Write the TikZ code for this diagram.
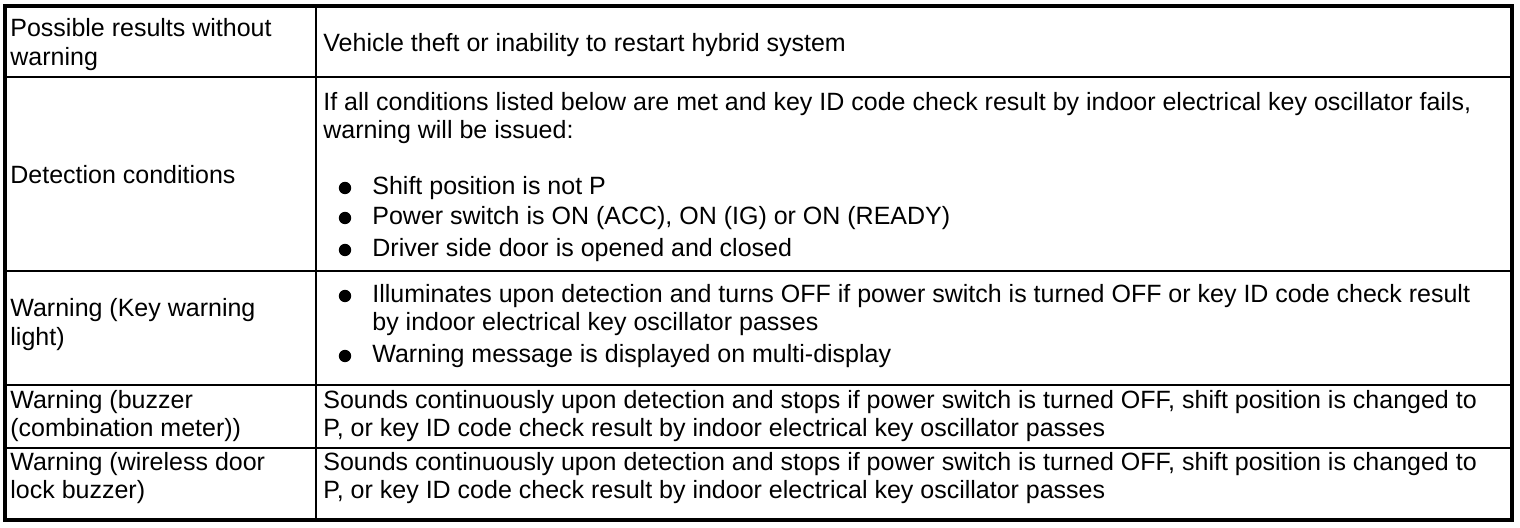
\documentclass[tikz,border=0pt]{standalone}
\usepackage{fontspec}
\setmainfont{Liberation Sans}
\begin{document}
\begin{tikzpicture}[x=0.5pt,y=-0.5pt,
	txt/.style={anchor=base west,inner sep=0pt,font=\fontsize{12.5pt}{14.5pt}\selectfont},
	dot/.style={circle,fill,inner sep=0pt,minimum size=6.2pt}]
	\useasboundingbox(0,0)rectangle(1520,528);
	\draw[line width=2pt](5,6)rectangle(1512,520);
	\draw[line width=0.8pt](316,6)--(316,520);
	\foreach\y in{77,271,385,448}\draw[line width=0.8pt](5,\y)--(1512,\y);
	\node[txt](resa)at(10,37){Possible results without};
	\node[txt](resb)at(10,66){warning};
	\node[txt](resr)at(323,52){Vehicle theft or inability to restart hybrid system};
	\node[txt](deta)at(10,184){Detection conditions};
	\node[txt](detb)at(323,111){If all conditions listed below are met and key ID code check result by indoor electrical key oscillator fails,};
	\node[txt](detc)at(323,139){warning will be issued:};
	\node[dot](dota)at(345,188){};
	\node[txt](detd)at(372,195){Shift position is not P};
	\node[dot](dotb)at(345,218){};
	\node[txt](dete)at(372,225){Power switch is ON (ACC), ON (IG) or ON (READY)};
	\node[dot](dotc)at(345,250){};
	\node[txt](detf)at(372,257){Driver side door is opened and closed};
	\node[txt](keya)at(10,317){Warning (Key warning};
	\node[txt](keyb)at(10,346){light)};
	\node[dot](dotd)at(345,296){};
	\node[txt](keyc)at(372,303){Illuminates upon detection and turns OFF if power switch is turned OFF or key ID code check result};
	\node[txt](keyd)at(372,331){by indoor electrical key oscillator passes};
	\node[dot](dote)at(345,356){};
	\node[txt](keye)at(372,363){Warning message is displayed on multi-display};
	\node[txt](buza)at(10,409){Warning (buzzer};
	\node[txt](buzb)at(10,437){(combination meter))};
	\node[txt](buzc)at(323,409){Sounds continuously upon detection and stops if power switch is turned OFF, shift position is changed to};
	\node[txt](buzd)at(323,437){P, or key ID code check result by indoor electrical key oscillator passes};
	\node[txt](wdla)at(10,471){Warning (wireless door};
	\node[txt](wdlb)at(10,499){lock buzzer)};
	\node[txt](wdlc)at(323,471){Sounds continuously upon detection and stops if power switch is turned OFF, shift position is changed to};
	\node[txt](wdld)at(323,499){P, or key ID code check result by indoor electrical key oscillator passes};
\end{tikzpicture}
\end{document}
